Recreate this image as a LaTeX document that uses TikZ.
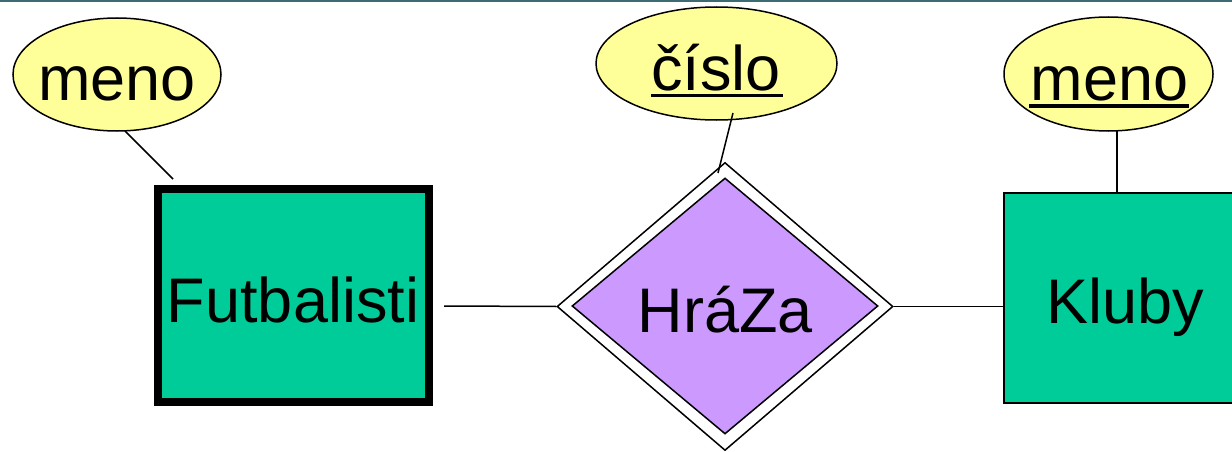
\documentclass[tikz,border=0pt]{standalone}
\usepackage{fontspec}
\setmainfont{Liberation Sans}
\usetikzlibrary{shapes.geometric,calc}
\definecolor{attrY}{HTML}{FFFF99}
\definecolor{entG}{HTML}{00CC99}
\definecolor{relP}{HTML}{CC99FF}
\definecolor{topC}{HTML}{3D6B73}
\tikzset{
  attrnode/.style={ellipse, draw=black, line width=1.5pt, fill=attrY, minimum width=208pt, minimum height=113pt, inner sep=0pt},
  lbl/.style={anchor=base, inner sep=0pt, font=\fontsize{63pt}{70pt}\selectfont},
  conn/.style={draw=black, line width=1.5pt},
  uline/.style={draw=black, line width=3.5pt},
}
\begin{document}
\begin{tikzpicture}[x=1pt,y=-1pt]
\useasboundingbox (0,0) rectangle (1232,452);
\fill[topC] (0,0) rectangle (1232,2.2);

% entities
\node[draw=black, line width=7.5pt, fill=entG, minimum width=271pt, minimum height=213pt, inner sep=0pt] (fut) at (293.5,295.5) {};
\node[lbl] (futT) at (293,322) {Futbalisti};

\node[draw=black, line width=1.5pt, fill=entG, minimum width=243pt, minimum height=210pt, inner sep=0pt] (klu) at (1125.5,298) {};
\node[lbl] (kluT) at (1125.5,323) {Kluby};

% relationship
\node[diamond, draw=black, line width=1.5pt, fill=white, minimum width=336pt, minimum height=288pt, inner sep=0pt] (rel) at (725,306.5) {};
\node[diamond, draw=black, line width=1.5pt, fill=relP, minimum width=306pt, minimum height=256pt, inner sep=0pt] (relin) at (725,306) {};
\node[lbl] (relT) at (725.5,332) {HráZa};

% attributes
\node[attrnode] (m1) at (117,74.5) {};
\node[lbl] (m1T) at (117,100) {meno};

\node[attrnode, minimum width=241pt, minimum height=113pt] (cis) at (716.5,63.5) {};
\node[lbl] (cisT) at (716,90) {číslo};
\draw[uline] (651,95.5) -- (783,95.5);

\node[attrnode, minimum width=209pt, minimum height=114pt] (m2) at (1108.5,74) {};
\node[lbl] (m2T) at (1109.5,100) {meno};
\draw[uline] (1029,106) -- (1189,106);

% connector end points
\coordinate (m1a) at (125,131);
\coordinate (m1b) at (173,179);
\coordinate (cisa) at (733,113);
\coordinate (cisb) at (718,173);
\coordinate (m2a) at (1117,131);
\coordinate (m2b) at (1117,193);
\coordinate (futa) at (444,306);

% connectors
\draw[conn] (m1a) -- (m1b);
\draw[conn] (cisa) -- (cisb);
\draw[conn] (m2a) -- (m2b);
\draw[conn] (futa) -- (rel.west);
\draw[conn] (rel.east) -- (rel.east -| klu.west);
\end{tikzpicture}
\end{document}
